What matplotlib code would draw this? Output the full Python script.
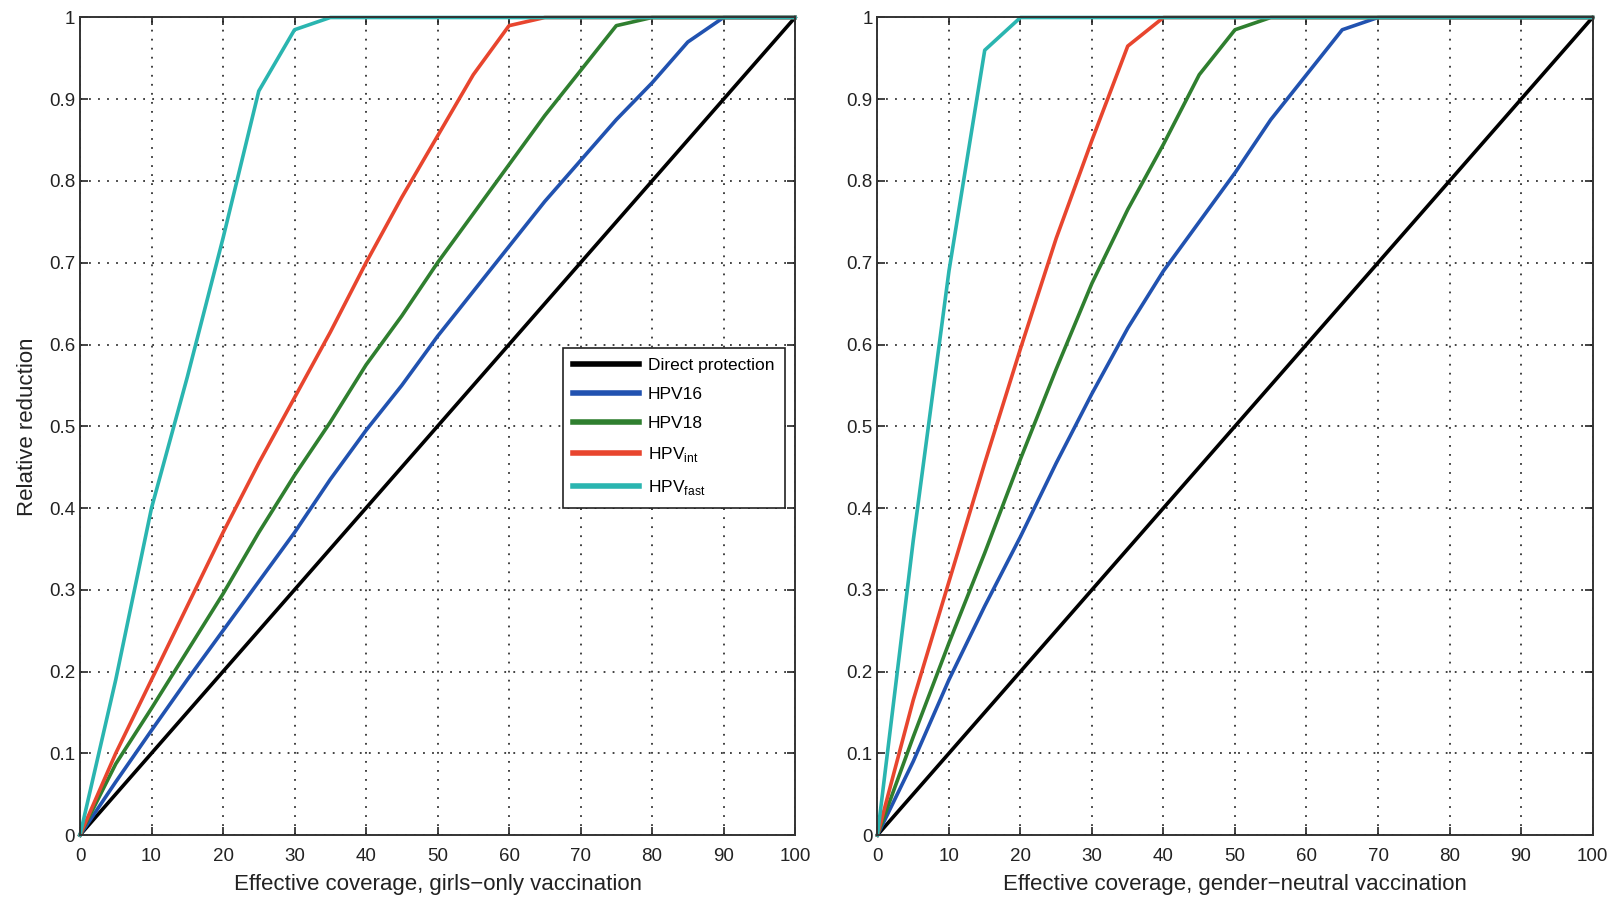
import numpy as np
import matplotlib
matplotlib.use("Agg")
from matplotlib import pyplot as plt

plt.rcParams['font.family'] = ['Liberation Sans', 'DejaVu Sans']
plt.rcParams['mathtext.fontset'] = 'custom'
plt.rcParams['mathtext.rm'] = 'Liberation Sans'

# coverage grid (percent)
coverage = [0, 5, 10, 15, 20, 25, 30, 35, 40, 45, 50,
            55, 60, 65, 70, 75, 80, 85, 90, 95, 100]

# girls-only vaccination
girls_direct = [0.0, 0.05, 0.10, 0.15, 0.20, 0.25, 0.30, 0.35, 0.40, 0.45, 0.50,
                0.55, 0.60, 0.65, 0.70, 0.75, 0.80, 0.85, 0.90, 0.95, 1.0]
girls_hpv16 = [0.0, 0.065, 0.128, 0.19, 0.25, 0.31, 0.37, 0.435, 0.495, 0.55, 0.61,
               0.665, 0.72, 0.775, 0.825, 0.875, 0.92, 0.97, 1.0, 1.0, 1.0]
girls_hpv18 = [0.0, 0.087, 0.155, 0.225, 0.295, 0.37, 0.44, 0.505, 0.575, 0.635, 0.70,
               0.76, 0.82, 0.88, 0.935, 0.99, 1.0, 1.0, 1.0, 1.0, 1.0]
girls_int = [0.0, 0.10, 0.19, 0.28, 0.37, 0.455, 0.535, 0.615, 0.70, 0.78, 0.855,
             0.93, 0.99, 1.0, 1.0, 1.0, 1.0, 1.0, 1.0, 1.0, 1.0]
girls_fast = [0.0, 0.19, 0.40, 0.56, 0.73, 0.91, 0.985, 1.0, 1.0, 1.0, 1.0,
              1.0, 1.0, 1.0, 1.0, 1.0, 1.0, 1.0, 1.0, 1.0, 1.0]

# gender-neutral vaccination
neutral_direct = [0.0, 0.05, 0.10, 0.15, 0.20, 0.25, 0.30, 0.35, 0.40, 0.45, 0.50,
                  0.55, 0.60, 0.65, 0.70, 0.75, 0.80, 0.85, 0.90, 0.95, 1.0]
neutral_hpv16 = [0.0, 0.09, 0.19, 0.28, 0.365, 0.455, 0.54, 0.62, 0.69, 0.75, 0.81,
                 0.875, 0.93, 0.985, 1.0, 1.0, 1.0, 1.0, 1.0, 1.0, 1.0]
neutral_hpv18 = [0.0, 0.12, 0.235, 0.345, 0.46, 0.57, 0.675, 0.765, 0.845, 0.93, 0.985,
                 1.0, 1.0, 1.0, 1.0, 1.0, 1.0, 1.0, 1.0, 1.0, 1.0]
neutral_int = [0.0, 0.165, 0.31, 0.455, 0.595, 0.73, 0.85, 0.965, 1.0, 1.0, 1.0,
               1.0, 1.0, 1.0, 1.0, 1.0, 1.0, 1.0, 1.0, 1.0, 1.0]
neutral_fast = [0.0, 0.36, 0.69, 0.96, 1.0, 1.0, 1.0, 1.0, 1.0, 1.0, 1.0,
                1.0, 1.0, 1.0, 1.0, 1.0, 1.0, 1.0, 1.0, 1.0, 1.0]

labels = ['Direct protection', 'HPV16', 'HPV18',
          r'HPV$_{\mathrm{int}}$', r'HPV$_{\mathrm{fast}}$']
colors = ['#000000', '#2152b0', '#2f7f2f', '#e8452e', '#2ab5b0']

x_ticks = list(range(0, 101, 10))
y_ticks = [0, 0.1, 0.2, 0.3, 0.4, 0.5, 0.6, 0.7, 0.8, 0.9, 1]
y_ticklabels = ['0', '0.1', '0.2', '0.3', '0.4', '0.5', '0.6', '0.7', '0.8', '0.9', '1']

fig = plt.figure(figsize=(16.13, 8.97), dpi=100)
ax1 = fig.add_axes([0.0496, 0.0691, 0.4433, 0.9114])
ax2 = fig.add_axes([0.544, 0.0691, 0.4433, 0.9114])

panels = [
    (ax1, [girls_direct, girls_hpv16, girls_hpv18, girls_int, girls_fast],
     'Effective coverage, girls\u2212only vaccination'),
    (ax2, [neutral_direct, neutral_hpv16, neutral_hpv18, neutral_int, neutral_fast],
     'Effective coverage, gender\u2212neutral vaccination'),
]

for ax, series, xlabel in panels:
    for ys, c, lab in zip(series, colors, labels):
        ax.plot(coverage, ys, color=c, lw=2.6, label=lab, clip_on=False)
    ax.set_xlim(0, 100)
    ax.set_ylim(0, 1)
    ax.set_xticks(x_ticks)
    ax.set_yticks(y_ticks)
    ax.set_yticklabels(y_ticklabels)
    ax.tick_params(direction='in', top=True, right=True, length=6,
                   width=1.2, labelsize=13.5, colors='#222222')
    ax.tick_params(axis='x', pad=9)
    ax.grid(True, color='#333333', linestyle=(0, (1, 4)), lw=1.3)
    for s in ax.spines.values():
        s.set_linewidth(1.4)
        s.set_color('#333333')
    ax.set_xlabel(xlabel, fontsize=16, labelpad=7, color='#222222')

ax1.set_ylabel('Relative reduction', fontsize=16, labelpad=8, color='#222222')

leg = ax1.legend(loc='upper left', bbox_to_anchor=(0.6755, 0.596),
                 borderaxespad=0, fontsize=12.5, handlelength=3.8,
                 handletextpad=0.5,
                 fancybox=False, framealpha=1, edgecolor='#222222',
                 labelspacing=0.8, borderpad=0.6)
leg.get_frame().set_linewidth(1.2)
for line in leg.get_lines():
    line.set_linewidth(4)

fig.savefig('out.png', dpi=100)
